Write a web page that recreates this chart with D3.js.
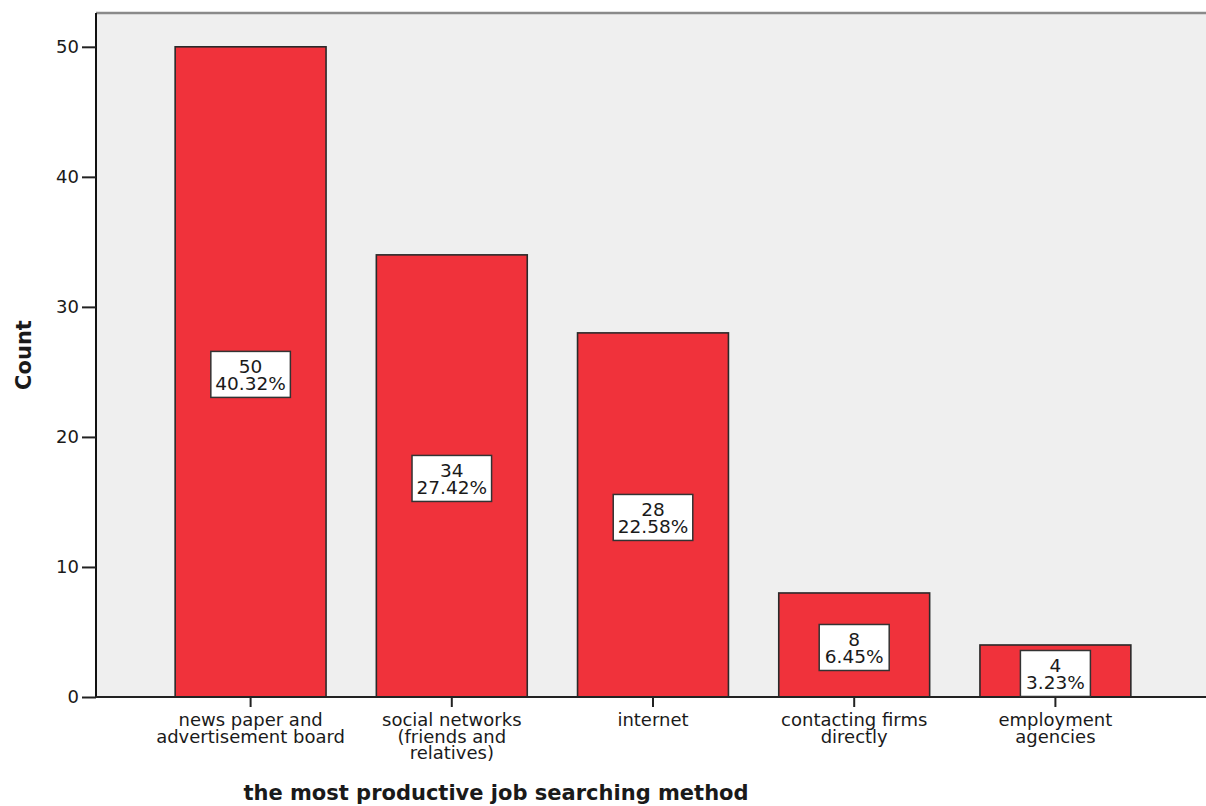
<!DOCTYPE html>
<html>
<head>
<meta charset="utf-8">
<script src="https://cdn.jsdelivr.net/npm/d3@7"></script>
<style>
  html, body { margin: 0; padding: 0; background: #ffffff; }
  svg { display: block; }
  text { font-family: "DejaVu Sans", Verdana, sans-serif; fill: #1a1a1a; }
</style>
</head>
<body>
<svg id="chart" width="1206" height="806"></svg>
<script>
// Survey responses: the most productive job searching method
const categories = [
  ["news paper and", "advertisement board"],
  ["social networks", "(friends and", "relatives)"],
  ["internet"],
  ["contacting firms", "directly"],
  ["employment", "agencies"]
];
const counts = [50, 34, 28, 8, 4];
const percentLabels = ["40.32%", "27.42%", "22.58%", "6.45%", "3.23%"];
const yTicks = [0, 10, 20, 30, 40, 50];
const xTitle = "the most productive job searching method";
const yTitle = "Count";

const W = 1206, H = 806;
const plot = { left: 96, top: 13, right: 1206, bottom: 697 };

const svg = d3.select("#chart");

const y = d3.scaleLinear()
  .domain([0, 52.6])
  .range([plot.bottom, plot.top]);

const x = d3.scaleBand()
  .domain(d3.range(categories.length))
  .range([150, 1156])
  .paddingInner(0.25)
  .paddingOuter(0.125);

// plot background
svg.append("rect")
  .attr("x", plot.left).attr("y", plot.top)
  .attr("width", plot.right - plot.left + 10)
  .attr("height", plot.bottom - plot.top)
  .attr("fill", "#efefef");

// top frame line
svg.append("line")
  .attr("x1", plot.left).attr("x2", W)
  .attr("y1", plot.top).attr("y2", plot.top)
  .attr("stroke", "#8a8a8a").attr("stroke-width", 2.5);

// bars
svg.append("g").selectAll("rect")
  .data(counts)
  .join("rect")
  .attr("x", (d, i) => x(i))
  .attr("y", d => y(d))
  .attr("width", x.bandwidth())
  .attr("height", d => y(0) - y(d))
  .attr("fill", "#f0323b")
  .attr("stroke", "#2a2a2a")
  .attr("stroke-width", 1.6);

// y axis
const yAxis = d3.axisLeft(y).tickValues(yTicks).tickSize(14).tickPadding(3);
const gy = svg.append("g")
  .attr("transform", `translate(${plot.left},0)`)
  .call(yAxis);
gy.select(".domain")
  .attr("d", `M0,${plot.top}V${plot.bottom}`)
  .attr("stroke", "#111").attr("stroke-width", 2);
gy.selectAll(".tick line").attr("stroke", "#222").attr("stroke-width", 2);
gy.selectAll(".tick text")
  .attr("font-family", "DejaVu Sans")
  .attr("font-size", 18)
  .attr("fill", "#1a1a1a");

// x axis
const xAxis = d3.axisBottom(x).tickSize(10).tickFormat("");
const gx = svg.append("g")
  .attr("transform", `translate(0,${plot.bottom})`)
  .call(xAxis);
gx.select(".domain")
  .attr("d", `M${plot.left},0H${W}`)
  .attr("stroke", "#222").attr("stroke-width", 2);
gx.selectAll(".tick line").attr("stroke", "#222").attr("stroke-width", 2);

// category labels, multi-line
const catG = svg.append("g");
categories.forEach((lines, i) => {
  const t = catG.append("text")
    .attr("x", x(i) + x.bandwidth() / 2)
    .attr("y", 726)
    .attr("text-anchor", "middle")
    .attr("font-size", 18);
  lines.forEach((ln, k) => {
    t.append("tspan")
      .attr("x", x(i) + x.bandwidth() / 2)
      .attr("dy", k === 0 ? 0 : 16.5)
      .text(ln);
  });
});

// value labels in white boxes at mid-height of each bar
const labG = svg.append("g");
counts.forEach((v, i) => {
  const cx = x(i) + x.bandwidth() / 2;
  const cy = y(v / 2) + 2.5;
  const g = labG.append("g");
  const box = g.append("rect");
  const t = g.append("text")
    .attr("text-anchor", "middle")
    .attr("font-size", 18.5);
  t.append("tspan").attr("x", cx).attr("y", cy - 1.5).text(v);
  t.append("tspan").attr("x", cx).attr("y", cy + 15.5).text(percentLabels[i]);
  const tw = t.node().getComputedTextLength ? t.node().getBBox().width : 70;
  const bw = Math.max(tw + 9, 70);
  const bh = 46;
  box.attr("x", cx - bw / 2).attr("y", cy - bh / 2)
    .attr("width", bw).attr("height", bh)
    .attr("fill", "#ffffff")
    .attr("stroke", "#333").attr("stroke-width", 1.5);
});

// axis titles
svg.append("text")
  .attr("x", 496).attr("y", 800)
  .attr("text-anchor", "middle")
  .attr("font-weight", "bold")
  .attr("font-size", 21)
  .attr("fill", "#000")
  .text(xTitle);

svg.append("text")
  .attr("transform", `translate(31,${(plot.top + plot.bottom) / 2}) rotate(-90)`)
  .attr("text-anchor", "middle")
  .attr("font-weight", "bold")
  .attr("font-size", 21)
  .attr("fill", "#000")
  .text(yTitle);
</script>
</body>
</html>
